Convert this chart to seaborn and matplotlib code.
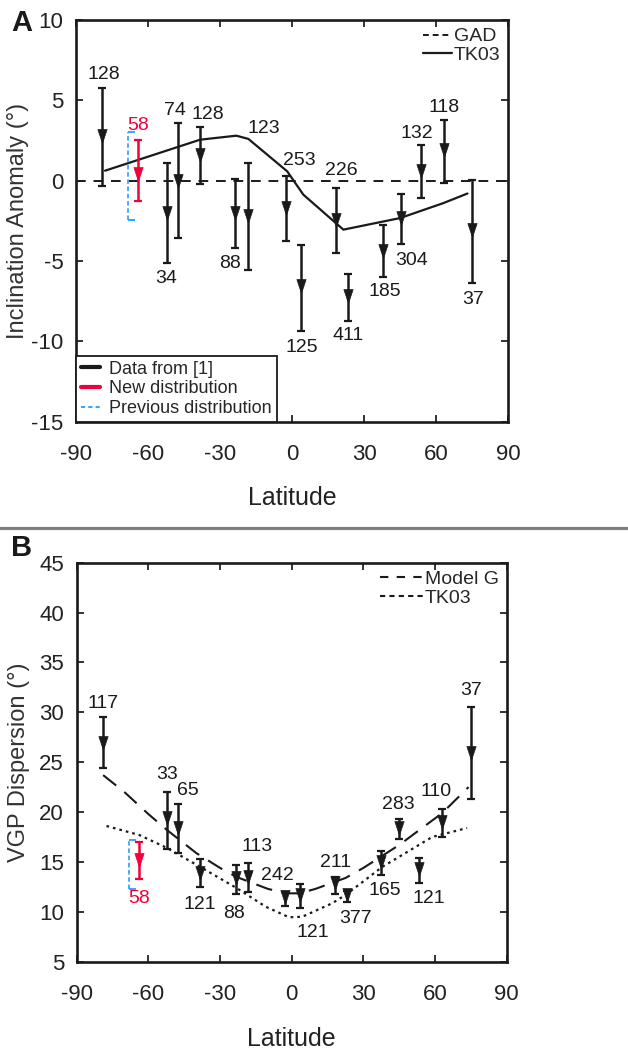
import numpy as np
import pandas as pd
import matplotlib
matplotlib.use("Agg")
import matplotlib.pyplot as plt
import seaborn as sns
from matplotlib.lines import Line2D
from matplotlib.path import Path

# ---------------- Panel A data ----------------
lat_a = [-79.0, -52.2, -47.4, -38.3, -23.6, -18.2, -2.6, 3.75, 18.2, 23.5, 38.1, 45.3, 53.75, 63.5, 75.1]
inc_a = [2.76, -2.0, 0.0, 1.62, -2.0, -2.2, -1.7, -6.58, -2.43, -7.2, -4.4, -2.33, 0.58, 1.93, -3.05]
inc_a_hi = [5.78, 1.1, 3.6, 3.32, 0.12, 1.1, 0.27, -4.03, -0.45, -5.8, -2.74, -0.83, 2.2, 3.8, 0.06]
inc_a_lo = [-0.31, -5.13, -3.57, -0.2, -4.2, -5.59, -3.78, -9.33, -4.5, -8.72, -6.02, -3.93, -1.08, -0.14, -6.37]
n_a = ["128", "34", "74", "128", "88", "123", "253", "125", "226", "411", "185", "304", "132", "118", "37"]

new_lat_a = [-64.3]
new_inc_a = [0.4]
new_inc_a_hi = [2.55]
new_inc_a_lo = [-1.29]
new_n_a = ["58"]

prev_lat_a = [-68.5]
prev_inc_a_hi = [3.0]
prev_inc_a_lo = [-2.43]

tk03_lat_a = [-77.9, -38.3, -23.2, -18.2, -2.0, 4.7, 21.4, 45.0, 63.0, 73.1]
tk03_inc_a = [0.62, 2.55, 2.8, 2.6, 0.58, -0.87, -3.05, -2.33, -1.4, -0.8]
gad_lat = [-90, 90]
gad_inc = [0, 0]

# ---------------- Panel B data ----------------
lat_b = [-78.9, -52.2, -47.4, -38.3, -23.3, -18.2, -2.6, 3.6, 18.2, 23.0, 37.4, 45.0, 53.3, 63.0, 74.9]
vgp_b = [26.9, 19.4, 18.4, 13.9, 13.4, 13.5, 11.5, 11.7, 12.85, 11.7, 15.0, 18.4, 14.3, 19.0, 25.9]
vgp_b_hi = [29.5, 22.05, 20.8, 15.3, 14.7, 14.9, 11.95, 12.8, 13.5, 12.1, 16.1, 19.3, 15.4, 20.3, 30.5]
vgp_b_lo = [24.4, 16.3, 15.9, 12.5, 11.8, 12.0, 10.6, 10.4, 11.75, 11.0, 13.7, 17.3, 12.9, 17.5, 21.3]
n_b = ["117", "33", "65", "121", "88", "113", "242", "121", "211", "377", "165", "283", "121", "110", "37"]

new_lat_b = [-64.0]
new_vgp_b = [15.2]
new_vgp_b_hi = [17.0]
new_vgp_b_lo = [13.3]
new_n_b = ["58"]

prev_lat_b = [-68.2]
prev_vgp_b_hi = [17.2]
prev_vgp_b_lo = [12.3]

modelg_lat = [-78.9, -70, -60, -52.2, -40, -30, -23.2, -10, -2.3, 3.3, 10, 22.6, 30, 45.0, 63.0, 74.0]
modelg_vgp = [23.7, 22.0, 19.8, 18.2, 15.9, 14.4, 13.5, 12.3, 11.85, 11.85, 12.3, 13.4, 14.4, 16.7, 19.9, 22.5]
tk03_lat_b = [-77.5, -63.8, -52.2, -38.3, -23.2, -10.8, -1.1, 4.4, 16.9, 22.6, 37.9, 58.8, 73.4]
tk03_vgp_b = [18.6, 17.7, 16.4, 14.5, 12.4, 10.5, 9.45, 9.5, 10.85, 11.7, 14.5, 17.5, 18.4]

xticks = [-90, -60, -30, 0, 30, 60, 90]
yticks_a = [-15, -10, -5, 0, 5, 10]
yticks_b = [5, 10, 15, 20, 25, 30, 35, 40, 45]

# ---------------- label placement (pixels, style only) ----------------
lab_a = [("t", 1, 13), ("b", -1, -15), ("t", -3, 12), ("t", 8, 13), ("b", -5, -15),
         ("t", 15, 34), ("t", 14, 16), ("b", 1, -17), ("t", 6, 17), ("b", 0, -15),
         ("b", 1, -14), ("b", 11, -17), ("t", -4, 12), ("t", 0, 12), ("b", 1, -17)]
lab_b = [("t", 0, 14), ("t", 0, 17), ("t", 9, 14), ("b", 0, -18), ("b", -2, -20),
         ("t", 9, 16), ("t", -8, 17), ("b", 13, -25), ("t", 0, 14), ("b", 9, -17),
         ("b", 4, -16), ("t", -1, 15), ("b", 10, -16), ("t", -6, 18), ("t", 0, 17)]

sns.set_style("ticks")
plt.rcParams["font.family"] = ["Liberation Sans Narrow", "Liberation Sans", "DejaVu Sans"]
plt.rcParams["axes.unicode_minus"] = False

RED = "#f0003c"
BLUE = "#3fa4ff"
TXT = "#1a1a1a"

tri = Path([(-0.5, 0.75), (0.5, 0.75), (0.0, -0.75), (-0.5, 0.75)],
           [Path.MOVETO, Path.LINETO, Path.LINETO, Path.CLOSEPOLY])

fig = plt.figure(figsize=(6.28, 10.54), dpi=100)
ax_a = fig.add_axes([0.121, 0.600, 0.688, 0.381])
ax_b = fig.add_axes([0.122, 0.0876, 0.685, 0.3786])


def draw_points(ax, lat, val, hi, lo, color, labels, lab_pos):
    lat = np.asarray(lat); val = np.asarray(val); hi = np.asarray(hi); lo = np.asarray(lo)
    ax.errorbar(lat, val, yerr=[val - lo, hi - val], fmt="none", ecolor=color,
                elinewidth=1.8, capsize=2.8, capthick=1.6, zorder=3)
    df = pd.DataFrame({"lat": lat, "val": val})
    sns.scatterplot(data=df, x="lat", y="val", marker=tri, s=100, color=color,
                    edgecolor=color, linewidth=0.5, ax=ax, zorder=4, legend=False)
    for i, txt in enumerate(labels):
        side, dx, dy = lab_pos[i]
        yref = hi[i] if side == "t" else lo[i]
        ax.annotate(txt, (lat[i], yref), xytext=(dx, dy), textcoords="offset pixels",
                    ha="center", va="center", fontsize=14, color=color if color == RED else TXT)


def draw_prev(ax, lat, hi, lo):
    ax.vlines(lat, lo, hi, colors=BLUE, linestyles=(0, (2.5, 1.5)), linewidth=1.3, zorder=2)
    ax.plot(lat + lat, hi + lo, linestyle="none", marker=1, markersize=5,
            markeredgewidth=1.5, color=BLUE, zorder=2)


def style_axes(ax, ylim, yticks, ylabel, xlabelpad):
    ax.set_xlim(-90, 90)
    ax.set_ylim(*ylim)
    ax.set_xticks(xticks)
    ax.set_yticks(yticks)
    ax.tick_params(direction="in", length=5, width=1.3, top=True, right=True,
                   labelsize=16, colors="#222222", pad=9)
    ax.tick_params(axis="x", pad=16)
    for s in ax.spines.values():
        s.set_linewidth(1.9)
        s.set_color("#1a1a1a")
    ax.set_xlabel("Latitude", fontsize=18, color="#222222", labelpad=xlabelpad)
    ax.set_ylabel(ylabel, fontsize=17, color="#333333")
    ax.yaxis.set_label_coords(-0.108, 0.5)


# ---------------- Panel A ----------------
sns.lineplot(x=gad_lat, y=gad_inc, ax=ax_a, color="#1a1a1a", linewidth=1.4,
             linestyle=(0, (5, 4)), zorder=1)
sns.lineplot(x=tk03_lat_a, y=tk03_inc_a, ax=ax_a, color="#1a1a1a", linewidth=1.6,
             sort=False, estimator=None, zorder=1)
draw_prev(ax_a, prev_lat_a, prev_inc_a_hi, prev_inc_a_lo)
draw_points(ax_a, lat_a, inc_a, inc_a_hi, inc_a_lo, "#1a1a1a", n_a, lab_a)
draw_points(ax_a, new_lat_a, new_inc_a, new_inc_a_hi, new_inc_a_lo, RED, new_n_a, [("t", 0, 14)])
style_axes(ax_a, (-15, 10), yticks_a, "Inclination Anomaly (°)", 15)

h1 = [Line2D([], [], color="#1a1a1a", lw=1.4, linestyle=(0, (3, 2))),
      Line2D([], [], color="#1a1a1a", lw=1.6)]
leg1 = ax_a.legend(h1, ["GAD", "TK03"], loc="upper right", frameon=False, fontsize=14,
                   handlelength=1.5, handletextpad=0.1, labelspacing=0.05,
                   borderaxespad=0.2, borderpad=0.2)
ax_a.add_artist(leg1)
h2 = [Line2D([], [], color="#1a1a1a", lw=3),
      Line2D([], [], color=RED, lw=3),
      Line2D([], [], color=BLUE, lw=1.5, linestyle=(0, (2, 1.5)))]
leg2 = ax_a.legend(h2, ["Data from [1]", "New distribution", "Previous distribution"],
                   loc="lower left", frameon=True, fancybox=False, fontsize=13,
                   handlelength=1.1, handletextpad=0.5, labelspacing=0.15,
                   borderaxespad=0.0, borderpad=0.25)
leg2.get_frame().set_edgecolor("#1a1a1a")
leg2.get_frame().set_linewidth(1.3)
leg2.get_frame().set_alpha(1)

# ---------------- Panel B ----------------
sns.lineplot(x=modelg_lat, y=modelg_vgp, ax=ax_b, color="#1a1a1a", linewidth=1.5,
             linestyle=(0, (8, 5)), sort=False, estimator=None, zorder=1)
sns.lineplot(x=tk03_lat_b, y=tk03_vgp_b, ax=ax_b, color="#1a1a1a", linewidth=1.6,
             linestyle=(0, (1.2, 1.8)), sort=False, estimator=None, zorder=1)
draw_prev(ax_b, prev_lat_b, prev_vgp_b_hi, prev_vgp_b_lo)
draw_points(ax_b, lat_b, vgp_b, vgp_b_hi, vgp_b_lo, "#1a1a1a", n_b, lab_b)
draw_points(ax_b, new_lat_b, new_vgp_b, new_vgp_b_hi, new_vgp_b_lo, RED, new_n_b, [("b", 0, -20)])
style_axes(ax_b, (5, 45), yticks_b, "VGP Dispersion (°)", 16)

h3 = [Line2D([], [], color="#1a1a1a", lw=1.5, linestyle=(0, (4, 4))),
      Line2D([], [], color="#1a1a1a", lw=1.5, linestyle=(0, (2.5, 2)))]
ax_b.legend(h3, ["Model G", "TK03"], loc="upper right", frameon=False, fontsize=14,
            handlelength=2.2, handletextpad=0.1, labelspacing=0.05,
            borderaxespad=0.2, borderpad=0.2)

# panel letters and separator
fig.text(0.018, 0.978, "A", fontsize=21, fontweight="bold", color="#1a1a1a",
         family=["Liberation Sans", "DejaVu Sans"], va="center")
fig.text(0.018, 0.480, "B", fontsize=21, fontweight="bold", color="#1a1a1a",
         family=["Liberation Sans", "DejaVu Sans"], va="center")
fig.add_artist(Line2D([0, 1], [0.4995, 0.4995], transform=fig.transFigure,
                      color="#808080", linewidth=2.3))

fig.savefig("out.png", dpi=100)
